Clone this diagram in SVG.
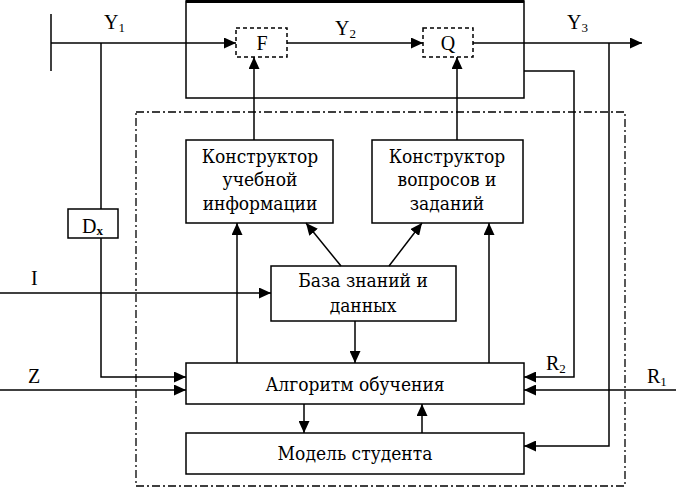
<svg xmlns="http://www.w3.org/2000/svg" width="676" height="489" viewBox="0 0 676 489">
<style>
.box{fill:#fff;stroke:#000;stroke-width:1.5}
.dbox{fill:#fff;stroke:#000;stroke-width:1.5;stroke-dasharray:4 3}
.ln{fill:none;stroke:#000;stroke-width:1.5}
.arr{fill:none;stroke:#000;stroke-width:1.5;marker-end:url(#ah)}
text{font-family:"Liberation Serif",serif;font-size:20px;fill:#000}
.ru{font-family:"DejaVu Serif","Liberation Serif",serif;font-size:19px;font-stretch:condensed}
.c{text-anchor:middle}
.sub{font-size:13px}
</style>
<defs>
<marker id="ah" markerUnits="userSpaceOnUse" markerWidth="12" markerHeight="11" refX="12" refY="5.5" orient="auto">
<path d="M0,0 L12,5.5 L0,11 z" fill="#000"/>
</marker>
</defs>
<rect x="136" y="112" width="489" height="374" fill="none" stroke="#000" stroke-width="1.3" stroke-dasharray="8 3 2 3"/>
<g id="plant">
<rect class="box" x="186" y="1" width="338" height="97" fill="none"/>
<line x1="186" y1="1.5" x2="524" y2="1.5" stroke="#000" stroke-width="3"/>
</g>
<g id="F"><rect class="dbox" x="236" y="28" width="51" height="29"/><text class="c" x="262" y="50">F</text></g>
<g id="Q"><rect class="dbox" x="423" y="28" width="50" height="29"/><text class="c" x="448" y="50">Q</text></g>
<g id="kui"><rect class="box" x="186" y="140" width="147" height="83"/>
<text class="c ru" x="260" y="163">Конструктор</text><text class="c ru" x="260" y="186">учебной</text><text class="c ru" x="260" y="210">информации</text></g>
<g id="kvz"><rect class="box" x="372" y="140" width="151" height="83"/>
<text class="c ru" x="447" y="163">Конструктор</text><text class="c ru" x="447" y="186">вопросов и</text><text class="c ru" x="447" y="210">заданий</text></g>
<g id="baza"><rect class="box" x="271" y="266" width="185" height="55"/>
<text class="c ru" x="363" y="287">База знаний и</text><text class="c ru" x="363" y="312">данных</text></g>
<g id="alg"><rect class="box" x="186" y="363" width="338" height="41"/><text class="c ru" x="355" y="391">Алгоритм обучения</text></g>
<g id="model"><rect class="box" x="186" y="433" width="338" height="41"/><text class="c ru" x="355" y="460">Модель студента</text></g>
<g id="connectors">
<line class="ln" x1="51" y1="14" x2="51" y2="71"/>
<line class="arr" x1="51" y1="43" x2="236" y2="43"/>
<line class="ln" x1="101" y1="43" x2="101" y2="209"/>
<polyline class="arr" points="101,238 101,377 186,377"/>
<line class="arr" x1="0" y1="390" x2="186" y2="390"/>
<line class="arr" x1="0" y1="293" x2="271" y2="293"/>
<line class="arr" x1="287" y1="43" x2="423" y2="43"/>
<line class="arr" x1="473" y1="43" x2="642" y2="43"/>
<polyline class="arr" points="609,43 609,446 524,446"/>
<polyline class="arr" points="524,71 574,71 574,377 524,377"/>
<line class="arr" x1="676" y1="390" x2="524" y2="390"/>
<line class="arr" x1="254" y1="140" x2="254" y2="57"/>
<line class="arr" x1="457" y1="140" x2="457" y2="57"/>
<line class="arr" x1="237" y1="363" x2="237" y2="223"/>
<line class="arr" x1="489" y1="363" x2="489" y2="223"/>
<line class="arr" x1="341" y1="266" x2="306" y2="223"/>
<line class="arr" x1="389" y1="266" x2="422" y2="223"/>
<line class="arr" x1="355" y1="321" x2="355" y2="363"/>
<line class="arr" x1="304" y1="404" x2="304" y2="433"/>
<line class="arr" x1="422" y1="433" x2="422" y2="404"/>
</g>
<g id="dx"><rect class="box" x="68" y="209" width="50" height="29"/><text x="82" y="233">D<tspan class="sub" font-weight="bold" dy="2">x</tspan></text></g>
<g id="labels">
<text x="104" y="29">Y<tspan class="sub" dy="3">1</tspan></text>
<text x="335" y="35">Y<tspan class="sub" dy="3">2</tspan></text>
<text x="567" y="29">Y<tspan class="sub" dy="3">3</tspan></text>
<text x="546" y="370">R<tspan class="sub" dy="3">2</tspan></text>
<text x="647" y="383">R<tspan class="sub" dy="3">1</tspan></text>
<text x="28" y="383">Z</text>
<text x="31" y="285">I</text>
</g>
</svg>
